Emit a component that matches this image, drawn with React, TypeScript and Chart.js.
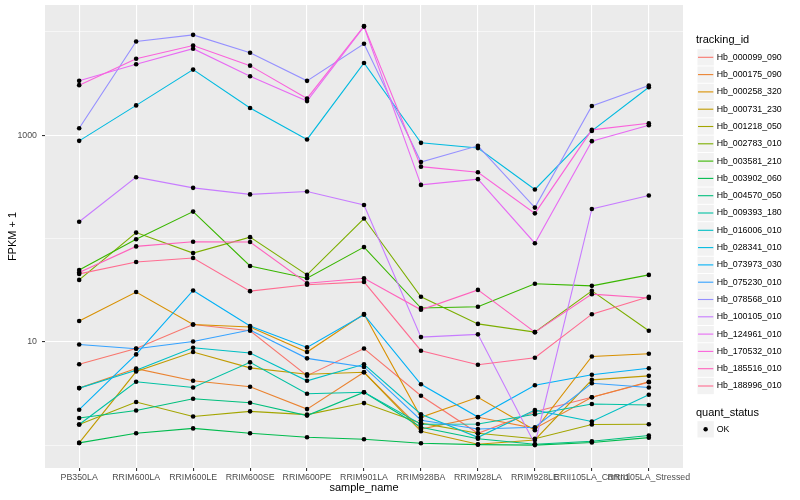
import React, { useEffect, useRef } from "react";
import { Chart, registerables } from "chart.js";

Chart.register(...registerables);

const FONT = '"Liberation Sans", Arial, Helvetica, sans-serif';

const sampleNames = [
  "PB350LA",
  "RRIM600LA",
  "RRIM600LE",
  "RRIM600SE",
  "RRIM600PE",
  "RRIM901LA",
  "RRIM928BA",
  "RRIM928LA",
  "RRIM928LE",
  "RRII105LA_Control",
  "RRII105LA_Stressed",
];

const trackingIds = [
  "Hb_000099_090",
  "Hb_000175_090",
  "Hb_000258_320",
  "Hb_000731_230",
  "Hb_001218_050",
  "Hb_002783_010",
  "Hb_003581_210",
  "Hb_003902_060",
  "Hb_004570_050",
  "Hb_009393_180",
  "Hb_016006_010",
  "Hb_028341_010",
  "Hb_073973_030",
  "Hb_075230_010",
  "Hb_078568_010",
  "Hb_100105_010",
  "Hb_124961_010",
  "Hb_170532_010",
  "Hb_185516_010",
  "Hb_188996_010",
];

const trackingColors = [
  "#F8766D", "#EA8331", "#D89000", "#C09B00", "#A3A500",
  "#7CAE00", "#39B600", "#00BB4E", "#00BF7D", "#00C1A3",
  "#00BFC4", "#00BAE0", "#00B0F6", "#35A2FF", "#9590FF",
  "#C77CFF", "#E76BF3", "#FA62DB", "#FF62BC", "#FF6C91",
];

// FPKM + 1 per sample (order of sampleNames)
const hb_000099_090 = [6.05, 8.6, 14.7, 12.8, 4.7, 8.6, 3.0, 1.3, 2.1, 2.9, 4.06];
const hb_000175_090 = [3.56, 5.5, 4.2, 3.67, 2.23, 5.07, 1.43, 1.86, 1.45, 2.9, 4.1];
const hb_000258_320 = [15.9, 30.3, 14.7, 13.9, 7.96, 18.6, 1.86, 2.9, 1.39, 7.2, 7.67];
const hb_000731_230 = [1.05, 5.15, 7.96, 5.59, 4.85, 5.07, 1.36, 1.02, 1.12, 4.28, 4.68];
const hb_001218_050 = [1.58, 2.61, 1.89, 2.12, 1.97, 2.55, 1.63, 1.3, 1.15, 1.58, 1.59];
const hb_002783_010 = [39.7, 114, 72.2, 103, 44.4, 156, 27.3, 14.9, 12.4, 31.1, 12.8];
const hb_003581_210 = [49.6, 98.4, 182, 54.2, 41.2, 82.5, 21.2, 21.8, 36.4, 34.8, 44.4];
const hb_003902_060 = [1.05, 1.3, 1.45, 1.3, 1.19, 1.14, 1.04, 1.01, 1.0, 1.06, 1.18];
const hb_004570_050 = [1.83, 2.16, 2.81, 2.57, 1.93, 3.25, 1.49, 1.15, 1.02, 1.09, 1.24];
const hb_009393_180 = [1.58, 4.1, 3.61, 6.32, 3.14, 3.25, 1.59, 1.6, 1.99, 2.5, 2.44];
const hb_016006_010 = [3.56, 5.3, 8.76, 7.79, 4.19, 6.05, 1.99, 1.19, 2.18, 1.69, 3.07];
const hb_028341_010 = [881, 1942, 4313, 1830, 909, 5000, 843, 750, 298, 1100, 2913];
const hb_073973_030 = [2.2, 7.55, 31.4, 14.2, 8.82, 18.3, 3.88, 1.87, 3.8, 4.79, 5.54];
const hb_075230_010 = [9.42, 8.57, 10.07, 13.0, 6.91, 5.71, 1.74, 1.43, 1.49, 3.97, 3.61];
const hb_078568_010 = [1167, 8072, 9355, 6282, 3357, 7674, 550, 789, 199, 1914, 3026];
const hb_100105_010 = [145, 392, 309, 267, 285, 211, 11.1, 11.8, 1.02, 193, 261];
const hb_124961_010 = [3357, 4853, 6870, 3715, 2138, 11250, 330, 375, 90, 875, 1248];
const hb_170532_010 = [3048, 5500, 7383, 4710, 2268, 11400, 496, 438, 175, 1125, 1304];
const hb_185516_010 = [46.8, 83.8, 92.9, 92.5, 36.9, 41.2, 20.4, 31.8, 12.4, 28.9, 26.5];
const hb_188996_010 = [45.4, 59.2, 64.7, 30.9, 35.6, 38, 8.2, 6.0, 7.0, 18.5, 27.3];

const trackingValues = [
  hb_000099_090, hb_000175_090, hb_000258_320, hb_000731_230, hb_001218_050,
  hb_002783_010, hb_003581_210, hb_003902_060, hb_004570_050, hb_009393_180,
  hb_016006_010, hb_028341_010, hb_073973_030, hb_075230_010, hb_078568_010,
  hb_100105_010, hb_124961_010, hb_170532_010, hb_185516_010, hb_188996_010,
];

const yBreaks = [1, 10, 100, 1000, 10000];
const yMajorLabels = ["10", "1000"];
const quantStatus = ["OK"];

const xTitle = "sample_name";
const yTitle = "FPKM + 1";
const legendTitle = "tracking_id";
const statusTitle = "quant_status";

const ggPlugin = {
  id: "ggDecor",
  beforeDraw(chart: any) {
    const { ctx, chartArea: a } = chart;
    ctx.save();
    ctx.fillStyle = "#FFFFFF";
    ctx.fillRect(0, 0, chart.width, chart.height);
    ctx.fillStyle = "#EBEBEB";
    ctx.fillRect(a.left, a.top, a.right - a.left, a.bottom - a.top);
    ctx.restore();
  },
  afterDraw(chart: any) {
    const { ctx, chartArea: a } = chart;
    ctx.save();
    // axis titles
    ctx.fillStyle = "#000000";
    ctx.font = `11px ${FONT}`;
    ctx.textAlign = "center";
    ctx.textBaseline = "middle";
    ctx.fillText(xTitle, (a.left + a.right) / 2, 488);
    ctx.save();
    ctx.translate(13, (a.top + a.bottom) / 2);
    ctx.rotate(-Math.PI / 2);
    ctx.fillText(yTitle, 0, 0);
    ctx.restore();

    // legend: tracking_id
    const lx = 697;
    const kw = 17.3;
    const kh = 17.3;
    ctx.textAlign = "left";
    ctx.font = `11px ${FONT}`;
    ctx.fillText(legendTitle, 696, 40);
    trackingIds.forEach((id, i) => {
      const cy = 57.3 + i * kh;
      ctx.fillStyle = "#F2F2F2";
      ctx.fillRect(lx + 0.5, cy - kh / 2 + 0.5, kw - 1, kh - 1);
      ctx.strokeStyle = trackingColors[i];
      ctx.lineWidth = 1.1;
      ctx.beginPath();
      ctx.moveTo(lx + 1, cy);
      ctx.lineTo(lx + kw - 1, cy);
      ctx.stroke();
      ctx.fillStyle = "#000000";
      ctx.font = `8.8px ${FONT}`;
      ctx.fillText(id, 716.7, cy);
    });

    // legend: quant_status
    ctx.font = `11px ${FONT}`;
    ctx.fillText(statusTitle, 696, 412.5);
    quantStatus.forEach((s, i) => {
      const cy = 429.3 + i * kh;
      ctx.fillStyle = "#F2F2F2";
      ctx.fillRect(lx + 0.5, cy - kh / 2 + 0.5, kw - 1, kh - 1);
      ctx.fillStyle = "#000000";
      ctx.beginPath();
      ctx.arc(lx + kw / 2, cy, 2.2, 0, Math.PI * 2);
      ctx.fill();
      ctx.font = `8.8px ${FONT}`;
      ctx.fillText(s, 716.7, cy);
    });
    ctx.restore();
  },
};

export default function App() {
  const ref = useRef<HTMLCanvasElement | null>(null);

  useEffect(() => {
    if (!ref.current) return;
    const lineSets = trackingIds.map((id, i) => ({
      type: "line" as const,
      label: id,
      data: trackingValues[i].map((v, j) => ({ x: j, y: v })),
      borderColor: trackingColors[i],
      backgroundColor: trackingColors[i],
      borderWidth: 1.1,
      pointRadius: 0,
      tension: 0,
      fill: false,
      order: 100 - i,
    }));
    const pointSets = trackingIds.map((id, i) => ({
      type: "line" as const,
      label: id + "_pts",
      data: trackingValues[i].map((v, j) => ({ x: j, y: v })),
      showLine: false,
      pointRadius: 2.3,
      pointStyle: "circle",
      pointBackgroundColor: "#000000",
      pointBorderWidth: 0,
      borderColor: "#000000",
      order: 0,
    }));

    const chart = new Chart(ref.current, {
      type: "line",
      data: { datasets: [...lineSets, ...pointSets] as any },
      plugins: [ggPlugin],
      options: {
        animation: false,
        responsive: false,
        devicePixelRatio: 1,
        layout: { autoPadding: false, padding: { left: 0, right: 117, top: 5, bottom: 0 } },
        plugins: {
          legend: { display: false },
          tooltip: { enabled: false },
        },
        scales: {
          x: {
            type: "linear",
            min: -0.6,
            max: 10.6,
            offset: false,
            afterBuildTicks: (s: any) => {
              s.ticks = sampleNames.map((_, i) => ({ value: i }));
            },
            afterFit: (s: any) => {
              s.height = 32;
              s.paddingLeft = 0;
              s.paddingRight = 0;
            },
            ticks: {
              autoSkip: false,
              maxRotation: 0,
              minRotation: 0,
              padding: 1,
              color: "#4D4D4D",
              font: { family: FONT, size: 8.8 },
              callback: (v: any) => sampleNames[v] ?? "",
            },
            grid: {
              color: "#FFFFFF",
              lineWidth: 1.1,
              tickLength: 3,
              tickColor: "#333333",
              tickWidth: 1.1,
            },
            border: { display: false },
          },
          y: {
            type: "logarithmic",
            min: 0.635,
            max: 18200,
            afterBuildTicks: (s: any) => {
              s.ticks = yBreaks.map((v) => ({ value: v }));
            },
            afterFit: (s: any) => {
              s.width = 45;
              s.paddingTop = 0;
              s.paddingBottom = 0;
            },
            ticks: {
              padding: 5,
              color: "#4D4D4D",
              font: { family: FONT, size: 8.8 },
              callback: (v: any) =>
                yMajorLabels.includes(String(v)) ? String(v) : "",
            },
            grid: {
              color: "#FFFFFF",
              lineWidth: (c: any) =>
                c.tick && yMajorLabels.includes(String(c.tick.value)) ? 1.1 : 0.55,
              tickLength: 3,
              tickWidth: 1.1,
              tickColor: (c: any) =>
                c.tick && yMajorLabels.includes(String(c.tick.value))
                  ? "#333333"
                  : "rgba(0,0,0,0)",
            },
            border: { display: false },
          },
        },
      } as any,
    });
    return () => chart.destroy();
  }, []);

  return (
    <div style={{ position: "fixed", left: 0, top: 0, width: 800, height: 500, background: "#FFFFFF" }}>
      <canvas ref={ref} width={800} height={500} style={{ width: 800, height: 500, display: "block" }} />
    </div>
  );
}
